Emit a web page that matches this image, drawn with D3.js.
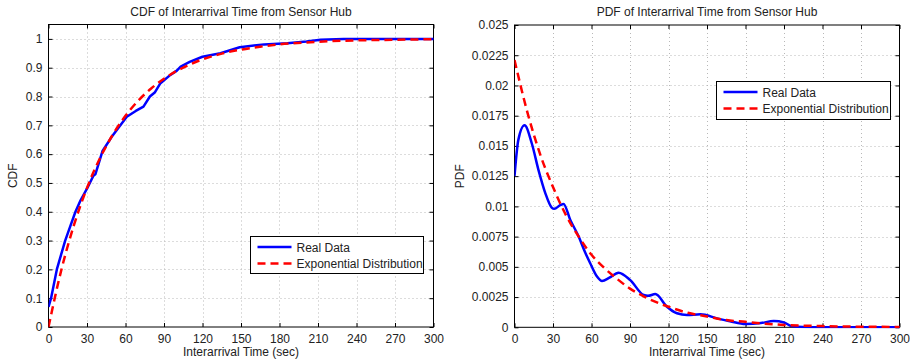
<!DOCTYPE html>
<html><head><meta charset="utf-8">
<script src="https://cdn.jsdelivr.net/npm/d3@7"></script>
<style>
body{margin:0;background:#fff;}
svg{display:block;font-family:"Liberation Sans",Arial,sans-serif;}
</style></head><body>
<svg id="c" width="910" height="361"></svg>
<script>
// ---- data ----
const cdfRealT = [0,2,6.5,13,17,21,25,30,35,36.5,42,50,56,61,68,74,79,83,87,95,100,103,110,120,134,149,168,186,201,212,230,300];
const cdfRealV = [0.07,0.10,0.20,0.30,0.35,0.40,0.44,0.48,0.525,0.53,0.61,0.665,0.70,0.73,0.75,0.765,0.80,0.815,0.845,0.875,0.89,0.904,0.92,0.938,0.95,0.971,0.981,0.985,0.991,0.997,1.0,1.0];
const cdfExpT = [0,10,20,30,40,50,60,70,80,90,100,110,120,135,150,165,180,210,240,270,300];
const cdfExpV = [0,0.198,0.356,0.483,0.585,0.667,0.733,0.786,0.828,0.862,0.889,0.911,0.929,0.949,0.963,0.973,0.981,0.990,0.995,0.997,0.999];
const pdfRealT = [0,3,7.8,13.5,18.7,24,29,31,35.6,38.2,43.4,50,55,59,64.3,68.2,74,81.1,90.2,100.6,104,109.7,118.8,126.6,134.4,145,157.8,168,180,192,202,210,216,225,240,300];
const pdfRealV = [0.0125,0.0155,0.0167,0.0152,0.0130,0.0111,0.0099,0.0098,0.0101,0.0102,0.0089,0.0075,0.0062,0.0053,0.0042,0.00383,0.0041,0.00452,0.0039,0.00267,0.0026,0.00275,0.0017,0.00116,0.00102,0.00107,0.00074,0.0005,0.00027,0.00035,0.00052,0.0004,0.0001,0.00002,0,0];
const pdfExpT = [0,10,20,30,40,50,60,70,80,90,100,110,120,135,150,165,180,195,210,240,270,300];
const pdfExpV = [0.0221,0.0178,0.0143,0.0116,0.0093,0.0075,0.006,0.0049,0.004,0.0032,0.0026,0.0021,0.0017,0.0012,0.0009,0.0006,0.00045,0.0003,0.0002,0.0001,0.00005,0.00003];
const xTicks = [0,30,60,90,120,150,180,210,240,270,300];
const cdfTicks = [0,0.1,0.2,0.3,0.4,0.5,0.6,0.7,0.8,0.9,1];
const cdfTickLabels = ["0","0.1","0.2","0.3","0.4","0.5","0.6","0.7","0.8","0.9","1"];
const pdfTicks = [0,0.0025,0.005,0.0075,0.01,0.0125,0.015,0.0175,0.02,0.0225,0.025];
const pdfTickLabels = ["0","0.0025","0.005","0.0075","0.01","0.0125","0.015","0.0175","0.02","0.0225","0.025"];
const legendNames = ["Real Data","Exponential Distribution"];

const svg = d3.select("#c");

function panel(o){
  const g = svg.append("g");
  const x = d3.scaleLinear().domain([0,300]).range([o.x0,o.x1]);
  const y = d3.scaleLinear().domain(o.ydom).range([o.y1,o.y0]);
  // grid
  const grid = g.append("g").attr("stroke","#b8b8b8").attr("stroke-width",1).attr("stroke-dasharray","1,3");
  xTicks.slice(1,-1).forEach(t=>grid.append("line").attr("x1",Math.round(x(t))+0.5).attr("x2",Math.round(x(t))+0.5).attr("y1",o.y0).attr("y2",o.y1));
  o.yticks.forEach(t=>{ if(y(t)>o.y0+1 && y(t)<o.y1-1) grid.append("line").attr("y1",Math.round(y(t))+0.5).attr("y2",Math.round(y(t))+0.5).attr("x1",o.x0).attr("x2",o.x1);});
  // axes
  const fmtX = d=>String(d);
  const ax = g.append("g").attr("transform",`translate(0,${o.y1})`).call(d3.axisBottom(x).tickValues(xTicks).tickSize(-4).tickPadding(7).tickFormat(fmtX));
  const axT = g.append("g").attr("transform",`translate(0,${o.y0})`).call(d3.axisTop(x).tickValues(xTicks).tickSize(-4).tickFormat(""));
  const ay = g.append("g").attr("transform",`translate(${o.x0},0)`).call(d3.axisLeft(y).tickValues(o.yticks).tickSize(-4).tickPadding(6).tickFormat((d,i)=>o.ylabels[i]));
  const ayR = g.append("g").attr("transform",`translate(${o.x1},0)`).call(d3.axisRight(y).tickValues(o.yticks).tickSize(-4).tickFormat(""));
  [ax,axT,ay,ayR].forEach(a=>{a.select(".domain").remove(); a.selectAll("line").attr("stroke","#000"); a.selectAll("text").attr("font-size",12).attr("fill","#222").attr("font-family","Liberation Sans, Arial, sans-serif");});
  g.append("rect").attr("x",o.x0).attr("y",o.y0).attr("width",o.x1-o.x0).attr("height",o.y1-o.y0).attr("fill","none").attr("stroke","#000").attr("stroke-width",1);
  // clip
  const cid = "clip"+o.id;
  svg.append("clipPath").attr("id",cid).append("rect").attr("x",o.x0).attr("y",o.y0-2).attr("width",o.x1-o.x0+1).attr("height",o.y1-o.y0+3);
  const lines = g.append("g").attr("clip-path",`url(#${cid})`);
  const mk = (T,V,curve)=>d3.line().x(d=>x(d[0])).y(d=>y(d[1])).curve(curve)(T.map((t,i)=>[t,V[i]]));
  lines.append("path").attr("d",mk(o.realT,o.realV,o.curve)).attr("fill","none").attr("stroke","#0000ff").attr("stroke-width",2.5).attr("stroke-linejoin","round");
  lines.append("path").attr("d",mk(o.expT,o.expV,d3.curveMonotoneX)).attr("fill","none").attr("stroke","#ff0000").attr("stroke-width",2.5).attr("stroke-dasharray","8,5");
  // titles
  g.append("text").attr("x",(o.x0+o.x1)/2).attr("y",16).attr("text-anchor","middle").attr("font-size",12).attr("fill","#222").text(o.title);
  g.append("text").attr("x",(o.x0+o.x1)/2).attr("y",356).attr("text-anchor","middle").attr("font-size",12).attr("fill","#222").text("Interarrival Time (sec)");
  g.append("text").attr("transform",`translate(${o.ylx},${(o.y0+o.y1)/2}) rotate(-90)`).attr("text-anchor","middle").attr("font-size",12).attr("fill","#222").text(o.ylabel);
  // legend
  const lg = g.append("g");
  lg.append("rect").attr("x",o.lx0).attr("y",o.ly0).attr("width",o.lx1-o.lx0).attr("height",o.ly1-o.ly0).attr("fill","#fff").attr("stroke","#000").attr("stroke-width",1);
  legendNames.forEach((n,i)=>{
    const yy = o.ly0+10.5+i*16.5;
    lg.append("line").attr("x1",o.lx0+7).attr("x2",o.lx0+41).attr("y1",yy).attr("y2",yy)
      .attr("stroke",i? "#ff0000":"#0000ff").attr("stroke-width",2.5).attr("stroke-dasharray",i?"8,5":null);
    lg.append("text").attr("x",o.lx0+46).attr("y",yy+4.5).attr("font-size",12).attr("fill","#222").text(n);
  });
}

panel({id:1,x0:48.5,x1:433.5,y0:24.5,y1:327,ydom:[0,1.05],yticks:cdfTicks,ylabels:cdfTickLabels,
  realT:cdfRealT,realV:cdfRealV,expT:cdfExpT,expV:cdfExpV,curve:d3.curveLinear,
  title:"CDF of Interarrival Time from Sensor Hub",ylabel:"CDF",ylx:17,
  lx0:250.5,lx1:423.5,ly0:236.5,ly1:273.5});
panel({id:2,x0:514.5,x1:899.5,y0:25,y1:327.3,ydom:[0,0.025],yticks:pdfTicks,ylabels:pdfTickLabels,
  realT:pdfRealT,realV:pdfRealV,expT:pdfExpT,expV:pdfExpV,curve:d3.curveMonotoneX,
  title:"PDF of Interarrival Time from Sensor Hub",ylabel:"PDF",ylx:464,
  lx0:716.5,lx1:890.5,ly0:81.5,ly1:119.5});
</script>
</body></html>
